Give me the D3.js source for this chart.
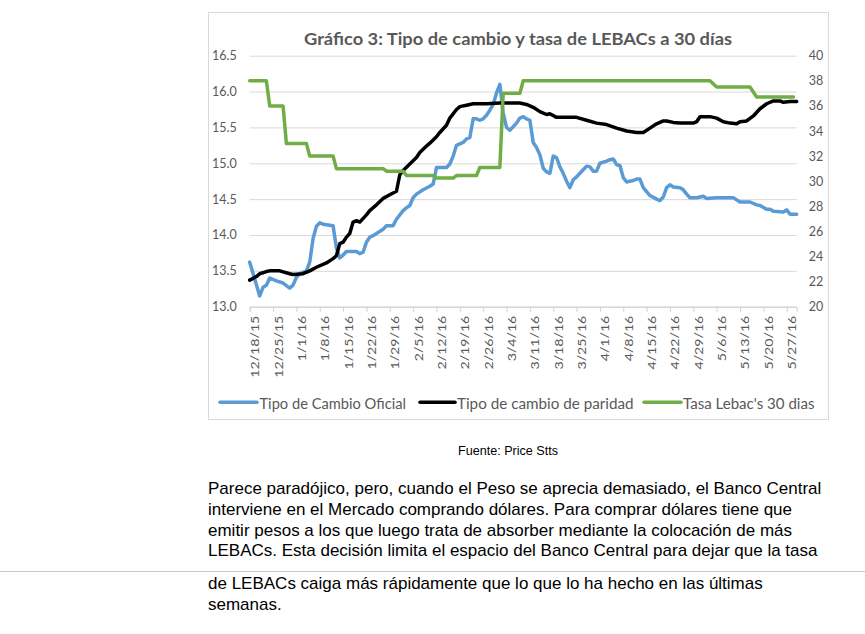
<!DOCTYPE html>
<html><head><meta charset="utf-8">
<script src="https://cdn.jsdelivr.net/npm/d3@7"></script>
<style>
body{margin:0;background:#fff;}
svg{display:block;}
</style></head><body>
<svg id="c" width="865" height="634"></svg>
<script>
// ---------------- DATA ----------------
const titulo = "Gráfico 3: Tipo de cambio y tasa de LEBACs a 30 días";
const serieNombres = ["Tipo de Cambio Oficial", "Tipo de cambio de paridad", "Tasa Lebac's 30 dias"];
const serieColores = ["#5b9bd5", "#000000", "#70ad47"];

const oficialFechas = ["12/18/15","12/21/15","12/22/15","12/23/15","12/24/15","12/26/15","12/28/15","12/30/15","12/31/15",
 "1/1/16","1/2/16","1/4/16","1/5/16","1/6/16","1/7/16","1/8/16","1/9/16","1/12/16","1/13/16","1/14/16","1/15/16","1/16/16",
 "1/19/16","1/20/16","1/21/16","1/22/16","1/23/16","1/24/16","1/25/16","1/27/16","1/28/16","1/30/16","1/31/16",
 "2/2/16","2/3/16","2/4/16","2/5/16","2/6/16","2/8/16","2/10/16","2/11/16","2/12/16","2/15/16","2/16/16","2/17/16","2/18/16",
 "2/20/16","2/21/16","2/22/16","2/23/16","2/24/16","2/25/16","2/26/16","2/27/16","2/28/16","2/29/16",
 "3/1/16","3/2/16","3/3/16","3/4/16","3/5/16","3/7/16","3/8/16","3/9/16","3/10/16","3/11/16","3/12/16","3/13/16","3/14/16",
 "3/15/16","3/16/16","3/17/16","3/18/16","3/19/16","3/20/16","3/21/16","3/22/16","3/23/16","3/24/16","3/25/16","3/26/16",
 "3/27/16","3/28/16","3/29/16","3/30/16","3/31/16",
 "4/1/16","4/3/16","4/4/16","4/5/16","4/6/16","4/7/16","4/8/16","4/9/16","4/11/16","4/12/16","4/13/16","4/14/16","4/16/16",
 "4/18/16","4/19/16","4/20/16","4/21/16","4/22/16","4/23/16","4/25/16","4/26/16","4/27/16","4/28/16","4/30/16",
 "5/2/16","5/3/16","5/6/16","5/11/16","5/12/16","5/13/16","5/16/16","5/18/16","5/19/16","5/21/16","5/22/16","5/23/16",
 "5/26/16","5/27/16","5/28/16","5/30/16"];
const oficialValores = [13.62,13.15,13.27,13.30,13.40,13.36,13.33,13.26,13.30,
 13.41,13.46,13.50,13.62,13.95,14.12,14.17,14.15,14.13,13.82,13.68,13.72,13.77,
 13.77,13.74,13.76,13.90,13.97,13.99,14.02,14.08,14.13,14.13,14.22,
 14.34,14.38,14.41,14.52,14.57,14.63,14.68,14.71,14.94,14.94,14.99,15.10,15.25,
 15.29,15.34,15.36,15.62,15.62,15.60,15.62,15.67,15.74,15.82,
 15.98,16.10,15.70,15.50,15.46,15.56,15.63,15.65,15.62,15.60,15.29,15.22,15.12,
 14.93,14.88,14.86,15.10,15.08,14.95,14.86,14.75,14.66,14.77,14.81,14.86,
 14.91,14.96,14.95,14.89,14.89,
 15.00,15.03,15.05,15.06,14.98,14.97,14.80,14.74,14.76,14.78,14.78,14.66,14.55,
 14.50,14.48,14.53,14.66,14.70,14.67,14.66,14.63,14.57,14.52,14.52,
 14.54,14.51,14.52,14.52,14.49,14.46,14.46,14.42,14.41,14.36,14.36,14.33,
 14.32,14.35,14.29,14.29];

const paridadFechas = ["12/18/15","12/20/15","12/21/15","12/23/15","12/24/15","12/27/15","12/30/15","12/31/15",
 "1/3/16","1/5/16","1/7/16","1/10/16","1/12/16","1/13/16","1/14/16","1/15/16","1/16/16","1/17/16","1/18/16","1/19/16",
 "1/20/16","1/22/16","1/23/16","1/25/16","1/27/16","1/29/16","1/31/16",
 "2/1/16","2/2/16","2/4/16","2/6/16","2/7/16","2/9/16","2/10/16","2/12/16","2/13/16","2/15/16","2/16/16","2/18/16",
 "2/19/16","2/21/16","2/23/16","2/27/16",
 "3/2/16","3/8/16","3/10/16","3/12/16","3/14/16","3/16/16","3/17/16","3/19/16","3/25/16","3/28/16","3/31/16",
 "4/3/16","4/6/16","4/9/16","4/12/16","4/14/16","4/16/16","4/18/16","4/20/16","4/21/16","4/23/16","4/25/16","4/29/16","4/30/16",
 "5/1/16","5/4/16","5/6/16","5/8/16","5/10/16","5/12/16","5/13/16","5/15/16","5/17/16","5/19/16","5/21/16","5/23/16",
 "5/25/16","5/26/16","5/28/16","5/30/16"];
const paridadValores = [13.37,13.42,13.46,13.49,13.50,13.50,13.46,13.45,
 13.46,13.50,13.55,13.61,13.67,13.71,13.88,13.90,13.97,14.02,14.18,14.20,
 14.18,14.28,14.34,14.42,14.51,14.56,14.61,
 14.84,14.90,14.99,15.08,15.15,15.24,15.28,15.37,15.43,15.53,15.63,15.75,
 15.79,15.81,15.83,15.83,
 15.84,15.84,15.82,15.78,15.72,15.68,15.69,15.64,15.64,15.60,15.56,
 15.54,15.49,15.45,15.43,15.43,15.49,15.55,15.59,15.59,15.57,15.56,15.56,15.58,
 15.65,15.65,15.63,15.58,15.56,15.55,15.58,15.59,15.66,15.76,15.83,15.87,
 15.87,15.85,15.86,15.86];

const lebacFechas = ["12/18/15","12/23/15","12/24/15","12/28/15","12/29/15","1/4/16","1/5/16","1/12/16","1/13/16",
 "1/27/16","1/28/16","2/2/16","2/3/16","2/11/16","2/12/16","2/17/16","2/18/16","2/24/16","2/25/16",
 "3/2/16","3/3/16","3/8/16","3/9/16","5/4/16","5/6/16","5/16/16","5/18/16","5/29/16"];
const lebacValores = [38,38,36,36,33,33,32,32,31,
 31,30.8,30.8,30.45,30.45,30.25,30.25,30.45,30.45,31.1,
 31.1,37,37,38,38,37.5,37.5,36.7,36.7];

const xTickLabels = ["12/18/15","12/25/15","1/1/16","1/8/16","1/15/16","1/22/16","1/29/16","2/5/16","2/12/16","2/19/16",
 "2/26/16","3/4/16","3/11/16","3/18/16","3/25/16","4/1/16","4/8/16","4/15/16","4/22/16","4/29/16","5/6/16","5/13/16",
 "5/20/16","5/27/16"];
const leftTicks = [13.0,13.5,14.0,14.5,15.0,15.5,16.0,16.5];
const rightTicks = [20,22,24,26,28,30,32,34,36,38,40];

const fuente = "Fuente: Price Stts";
const parrafo1 = [
 "Parece paradójico, pero, cuando el Peso se aprecia demasiado, el Banco Central",
 "interviene en el Mercado comprando dólares. Para comprar dólares tiene que",
 "emitir pesos a los que luego trata de absorber mediante la colocación de más",
 "LEBACs. Esta decisión limita el espacio del Banco Central para dejar que la tasa"];
const parrafo2 = [
 "de LEBACs caiga más rápidamente que lo que lo ha hecho en las últimas",
 "semanas."];

// ---------------- DRAW ----------------
const parse = d3.timeParse("%m/%d/%y");
const svg = d3.select("#c");
const FONT = "Lato, 'Open Sans', sans-serif";
const GREY = "#595959";

function fit(sel, w){ sel.attr("textLength", w).attr("lengthAdjust","spacingAndGlyphs"); }

// chart frame
svg.append("rect").attr("x",208.5).attr("y",12.5).attr("width",620).attr("height",407)
  .attr("fill","#fff").attr("stroke","#d9d9d9").attr("stroke-width",1);

const L = 249.7, R = 796.7, T = 55.7, B = 306.7;
const allDates = [...oficialFechas, ...paridadFechas].map(parse);
const x = d3.scaleTime().domain(d3.extent(allDates)).range([L, R]);
const yL = d3.scaleLinear().domain([13, 16.5]).range([B, T]);
const yR = d3.scaleLinear().domain([20, 40]).range([B, T]);

// left axis + gridlines
const gL = svg.append("g").attr("transform",`translate(${L},0)`)
  .call(d3.axisLeft(yL).tickValues(leftTicks).tickFormat(d3.format(".1f")).tickSize(-(R-L)).tickPadding(13));
gL.select(".domain").remove();
gL.selectAll(".tick line").attr("stroke","#d9d9d9").attr("stroke-width",1);
gL.selectAll(".tick text").attr("fill",GREY).style("font-family",FONT).style("font-size","12.5px");

// right axis
const gR = svg.append("g").attr("transform",`translate(${R},0)`)
  .call(d3.axisRight(yR).tickValues(rightTicks).tickSize(0).tickPadding(12));
gR.select(".domain").remove();
gR.selectAll(".tick text").attr("fill",GREY).style("font-family",FONT).style("font-size","12.5px");

// bottom axis
const gB = svg.append("g").attr("transform",`translate(0,${B})`)
  .call(d3.axisBottom(x).tickValues(xTickLabels.map(parse)).tickFormat((d,i)=>xTickLabels[i]).tickSize(5));
gB.select(".domain").attr("stroke","#d0d0d0");
gB.selectAll(".tick line").attr("stroke","#d0d0d0");
const xt = gB.selectAll(".tick text").attr("fill",GREY).style("font-family",FONT).style("font-size","12px")
  .attr("transform","rotate(-90)").attr("x",-9).attr("y",9).attr("dy",0).style("text-anchor","end");
const nat0 = xt.node().getComputedTextLength();
const kx = 62 / nat0;
xt.each(function(){ const n = this.getComputedTextLength(); d3.select(this).call(fit, n*kx); });

// lines
const lineL = d3.line().x(d=>x(d[0])).y(d=>yL(d[1])).curve(d3.curveLinear);
const lineR = d3.line().x(d=>x(d[0])).y(d=>yR(d[1])).curve(d3.curveLinear);
const series = [
  {data: d3.zip(oficialFechas.map(parse), oficialValores), gen: lineL, c: serieColores[0]},
  {data: d3.zip(paridadFechas.map(parse), paridadValores), gen: lineL, c: serieColores[1]},
  {data: d3.zip(lebacFechas.map(parse), lebacValores), gen: lineR, c: serieColores[2]}
];
series.forEach(s=>{
  svg.append("path").attr("d", s.gen(s.data)).attr("fill","none").attr("stroke",s.c)
    .attr("stroke-width",3.5).attr("stroke-linejoin","round").attr("stroke-linecap","round");
});

// title
svg.append("text").attr("x",518).attr("y",45).attr("text-anchor","middle")
  .style("font-family",FONT).style("font-weight","bold").style("font-size","17.5px").attr("fill",GREY)
  .text(titulo).call(fit, 428);

// legend
const legend = [
  {x1:220, x2:257, tx:259.5, tw:146.5},
  {x1:420, x2:455, tx:457, tw:176.6},
  {x1:644, x2:681, tx:683, tw:131.5}
];
legend.forEach((l,i)=>{
  svg.append("line").attr("x1",l.x1).attr("x2",l.x2).attr("y1",402.3).attr("y2",402.3)
    .attr("stroke",serieColores[i]).attr("stroke-width",3.5).attr("stroke-linecap","round");
  svg.append("text").attr("x",l.tx).attr("y",409).style("font-family",FONT).style("font-size","15.5px")
    .attr("fill",GREY).text(serieNombres[i]).call(fit, l.tw);
});

// source
svg.append("text").attr("x",508).attr("y",455).attr("text-anchor","middle")
  .style("font-family","'Liberation Sans', Arial, sans-serif").style("font-size","12.5px").attr("fill","#000")
  .text(fuente).call(fit, 100);

// paragraphs
const PF = "'Liberation Sans', Arial, sans-serif";
parrafo1.forEach((t,i)=>{
  svg.append("text").attr("x",208).attr("y",494.3 + i*20.6).style("font-family",PF).style("font-size","17px")
    .attr("fill","#000").text(t);
});
svg.append("line").attr("x1",0).attr("x2",865).attr("y1",571.5).attr("y2",571.5).attr("stroke","#c8c8c8").attr("stroke-width",1);
parrafo2.forEach((t,i)=>{
  svg.append("text").attr("x",208).attr("y",589 + i*20.6).style("font-family",PF).style("font-size","17px")
    .attr("fill","#000").text(t);
});
</script>
</body></html>
